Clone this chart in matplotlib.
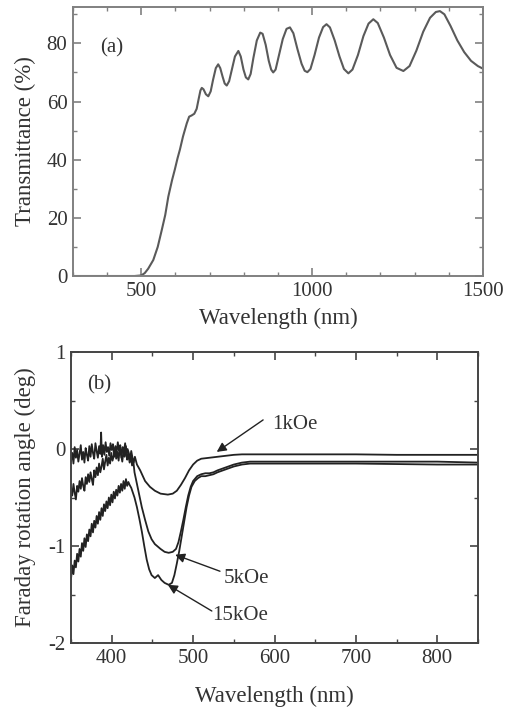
import matplotlib.pyplot as plt
from matplotlib.ticker import MultipleLocator

plt.rcParams['font.family'] = ['Liberation Serif', 'DejaVu Serif']
plt.rcParams['axes.unicode_minus'] = False

# (a) transmittance spectrum
wl_a = [300, 400, 480, 500, 510, 520, 535, 548, 560, 570, 579, 590, 598, 606, 613, 622,
        633, 640, 647, 655, 662, 668, 673, 677, 682, 689, 696, 703, 710, 718, 725, 731,
        738, 744, 750, 757, 765, 774, 784, 791, 799, 806, 813, 820, 828, 838, 848, 855,
        864, 873, 880, 886, 893, 902, 914, 925, 935, 945, 957, 969, 978, 986, 995, 1007,
        1020, 1032, 1042, 1052, 1066, 1080, 1093, 1106, 1118, 1134, 1150, 1165, 1179, 1192,
        1210, 1228, 1247, 1267, 1285, 1305, 1325, 1345, 1362, 1374, 1387, 1405, 1425, 1445,
        1465, 1485, 1500]
trans = [0, 0, 0, 0.2, 1.0, 2.5, 5.5, 10, 15.9, 21, 27.3, 33, 36.6, 40.5, 43.5, 48,
         52.5, 54.8, 55.2, 55.8, 57.5, 61, 63.8, 64.7, 64.2, 62.5, 61.8, 63.5, 67.5, 71.5, 72.8, 71.5,
         68.5, 66.2, 65.5, 67, 71, 75.5, 77.4, 75.5, 71, 68.3, 67.6, 69.5, 75, 81, 83.7, 83.3,
         79.5, 74, 71, 70, 71, 75.5, 81.5, 85, 85.5, 83.5, 78, 73, 70.6, 70.1, 71.2, 76,
         82, 85.6, 86.6, 85.5, 81, 75.5, 71.2, 69.7, 71, 76, 82.5, 86.8, 88.3, 87,
         82, 76, 71.6, 70.5, 72.2, 77.5, 84, 88.8, 90.8, 91.1, 90, 86, 81, 77,
         74, 72.2, 71.3]

# (b) Faraday rotation, noisy part below ~430 nm
wl_1k = [350, 351.5, 353, 354.5, 356, 357.5, 359, 360.5, 362, 363.5, 365, 366.5, 368, 369.5, 371, 372.5,
         374, 375.5, 377, 378.5, 380, 381.5, 383, 384.5, 386, 387, 388, 389.5, 391, 392.5, 394, 395.5,
         397, 398.5, 400, 401.5, 403, 404.5, 406, 407.5, 409, 410.5, 412, 413.5, 415, 416.5, 418, 419.5,
         421, 422.5, 424, 425.5, 427, 428.5, 431, 435, 441, 447, 453, 460, 469,
         475, 480, 485, 490, 495, 500, 505, 510, 520, 530, 540, 550, 560, 580, 600, 650,
         700, 750, 800, 850]
rot_1k = [-0.12, -0.04, -0.15, 0.02, -0.09, -0.01, -0.13, -0.05, 0.04, -0.11, -0.03, -0.14, 0.01, -0.06, -0.12, 0.03,
          -0.08, 0.05, -0.04, -0.10, 0.06, -0.02, -0.09, 0.03, -0.05, 0.17, -0.08, 0.04, -0.06, 0.07, -0.03, 0.02,
          -0.07, 0.06, -0.01, 0.05, -0.08, 0.03, -0.04, 0.07, -0.02, 0.04, -0.09, 0.02, -0.03, 0.06, -0.07, 0.00,
          -0.04, -0.11, -0.02, -0.09, -0.14, -0.08, -0.16, -0.22, -0.33, -0.39, -0.43, -0.46, -0.47,
          -0.46, -0.43, -0.37, -0.30, -0.22, -0.16, -0.12, -0.10, -0.09, -0.08, -0.07, -0.06, -0.055, -0.055, -0.055, -0.055,
          -0.055, -0.06, -0.06, -0.06]

wl_5k = [350, 351.5, 353, 354.5, 356, 357.5, 359, 360.5, 362, 363.5, 365, 366.5, 368, 369.5, 371, 372.5,
         374, 375.5, 377, 378.5, 380, 381.5, 383, 384.5, 386, 387.5, 389, 390.5, 392, 393.5, 395, 396.5,
         398, 399.5, 401, 402.5, 404, 405.5, 407, 408.5, 410, 411.5, 413, 414.5, 416, 417.5, 419, 420.5,
         422, 423.5, 425, 426.5, 428, 431, 434, 437, 441, 445, 449, 453, 460,
         465, 470, 475, 479, 482, 485, 488, 491, 494, 497, 500, 505, 510, 515, 520, 525,
         530, 540, 550, 560, 570, 600, 650, 700, 750, 800, 850]
rot_5k = [-0.40, -0.48, -0.36, -0.45, -0.52, -0.38, -0.44, -0.33, -0.41, -0.30, -0.38, -0.43, -0.29, -0.36, -0.26, -0.34,
          -0.24, -0.31, -0.37, -0.22, -0.29, -0.19, -0.27, -0.15, -0.24, -0.18, -0.10, -0.21, -0.13, -0.06, -0.17, -0.09,
          -0.15, -0.04, -0.12, -0.07, 0.01, -0.10, -0.03, -0.12, 0.02, -0.06, -0.13, -0.02, -0.08, 0.03, -0.11, -0.05,
          -0.14, -0.07, -0.17, -0.12, -0.24, -0.36, -0.48, -0.60, -0.73, -0.85, -0.93, -0.98, -1.03,
          -1.06, -1.07, -1.06, -1.03, -0.96, -0.85, -0.73, -0.60, -0.48, -0.39, -0.33, -0.28, -0.26, -0.25, -0.25, -0.24,
          -0.22, -0.19, -0.16, -0.14, -0.13, -0.13, -0.13, -0.13, -0.13, -0.13, -0.14]

wl_15k = [350, 351.5, 353, 354.5, 356, 357.5, 359, 360.5, 362, 363.5, 365, 366.5, 368, 369.5, 371, 372.5,
          374, 375.5, 377, 378.5, 380, 381.5, 383, 384.5, 386, 387.5, 389, 390.5, 392, 393.5, 395, 396.5,
          398, 399.5, 401, 402.5, 404, 405.5, 407, 408.5, 410, 411.5, 413, 414.5, 416, 417.5, 419, 420.5,
          422, 424, 426, 428, 431, 434, 437, 440, 443, 446, 449, 453,
          457, 461, 465, 470, 474, 477, 480, 483, 486, 489, 492, 495, 498, 502, 506, 510,
          515, 520, 525, 530, 540, 550, 560, 570, 600, 700, 800, 850]
rot_15k = [-1.34, -1.20, -1.29, -1.15, -1.22, -1.08, -1.16, -1.03, -1.11, -0.97, -1.05, -0.92, -1.01, -0.88, -0.95, -0.83,
           -0.90, -0.77, -0.86, -0.74, -0.81, -0.69, -0.77, -0.65, -0.73, -0.61, -0.69, -0.57, -0.64, -0.54, -0.61, -0.50,
           -0.58, -0.47, -0.55, -0.44, -0.51, -0.42, -0.48, -0.38, -0.45, -0.36, -0.43, -0.33, -0.41, -0.31, -0.38, -0.34,
           -0.37, -0.40, -0.45, -0.50, -0.60, -0.72, -0.85, -1.00, -1.14, -1.24, -1.30, -1.33,
           -1.30, -1.35, -1.38, -1.40, -1.38, -1.30, -1.18, -1.05, -0.90, -0.75, -0.60, -0.48, -0.39, -0.33, -0.30, -0.28,
           -0.28, -0.27, -0.26, -0.24, -0.21, -0.18, -0.16, -0.15, -0.15, -0.15, -0.16, -0.16]

# label text, arrow tail, arrow tip
field_labels = ['1kOe', '5kOe', '15kOe']
label_xy = [(597, 0.25), (537, -1.33), (524, -1.72)]
arrow_tail = [(586, 0.30), (533, -1.26), (523, -1.67)]
arrow_tip = [(529, -0.03), (478, -1.09), (469, -1.40)]

fig = plt.figure(figsize=(5.09, 7.11), dpi=100)
ax1 = fig.add_axes([0.1434, 0.6118, 0.8055, 0.3783])
ax2 = fig.add_axes([0.1395, 0.0956, 0.7996, 0.4093])

ax1.plot(wl_a, trans, color='#5a5a5a', lw=1.5)
ax1.set_xlim(300, 1500)
ax1.set_ylim(0, 92.5)
ax1.xaxis.set_major_locator(MultipleLocator(500))
ax1.xaxis.set_minor_locator(MultipleLocator(100))
ax1.yaxis.set_major_locator(MultipleLocator(20))
ax1.yaxis.set_minor_locator(MultipleLocator(10))
ax1.set_xlabel('Wavelength (nm)', fontsize=16.5, color='#333333')
ax1.set_ylabel('Transmittance (%)', fontsize=16.5, color='#333333')
ax1.xaxis.set_label_coords(0.5, -0.12)
ax1.yaxis.set_label_coords(-0.09, 0.5)
ax1.text(0.066, 0.85, '(a)', transform=ax1.transAxes, fontsize=15, va='center', color='#333333')

for w, r in [(wl_1k, rot_1k), (wl_5k, rot_5k), (wl_15k, rot_15k)]:
    ax2.plot(w, r, color='#222222', lw=1.3)
ax2.set_xlim(350, 850)
ax2.set_ylim(-2, 1)
ax2.xaxis.set_major_locator(MultipleLocator(100))
ax2.xaxis.set_minor_locator(MultipleLocator(50))
ax2.yaxis.set_major_locator(MultipleLocator(1))
ax2.yaxis.set_minor_locator(MultipleLocator(0.5))
ax2.set_xlabel('Wavelength (nm)', fontsize=16.5, color='#333333')
ax2.set_ylabel('Faraday rotation angle (deg)', fontsize=16.5, color='#333333')
ax2.xaxis.set_label_coords(0.5, -0.147)
ax2.yaxis.set_label_coords(-0.085, 0.5)
ax2.text(0.04, 0.887, '(b)', transform=ax2.transAxes, fontsize=15, va='center', color='#333333')

for lab, pos, tail, tip in zip(field_labels, label_xy, arrow_tail, arrow_tip):
    ax2.annotate('', xy=tip, xytext=tail,
                 arrowprops=dict(arrowstyle='-|>', color='#222222', lw=1.0,
                                 mutation_scale=14, shrinkA=0, shrinkB=0))
    ax2.text(pos[0], pos[1], lab, fontsize=15, va='center', ha='left', color='#333333')

for ax, sc in [(ax1, '#808080'), (ax2, '#444444')]:
    for s in ax.spines.values():
        s.set_color(sc)
        s.set_linewidth(1.4)
    ax.tick_params(which='both', direction='in', top=True, right=True,
                   labelsize=15, colors=sc)
    ax.tick_params(which='major', length=6, width=1.2, pad=4)
    ax.tick_params(which='minor', length=3, width=1.0)
    for t in ax.get_xticklabels() + ax.get_yticklabels():
        t.set_color('#333333')

fig.savefig('out.png', dpi=100)
